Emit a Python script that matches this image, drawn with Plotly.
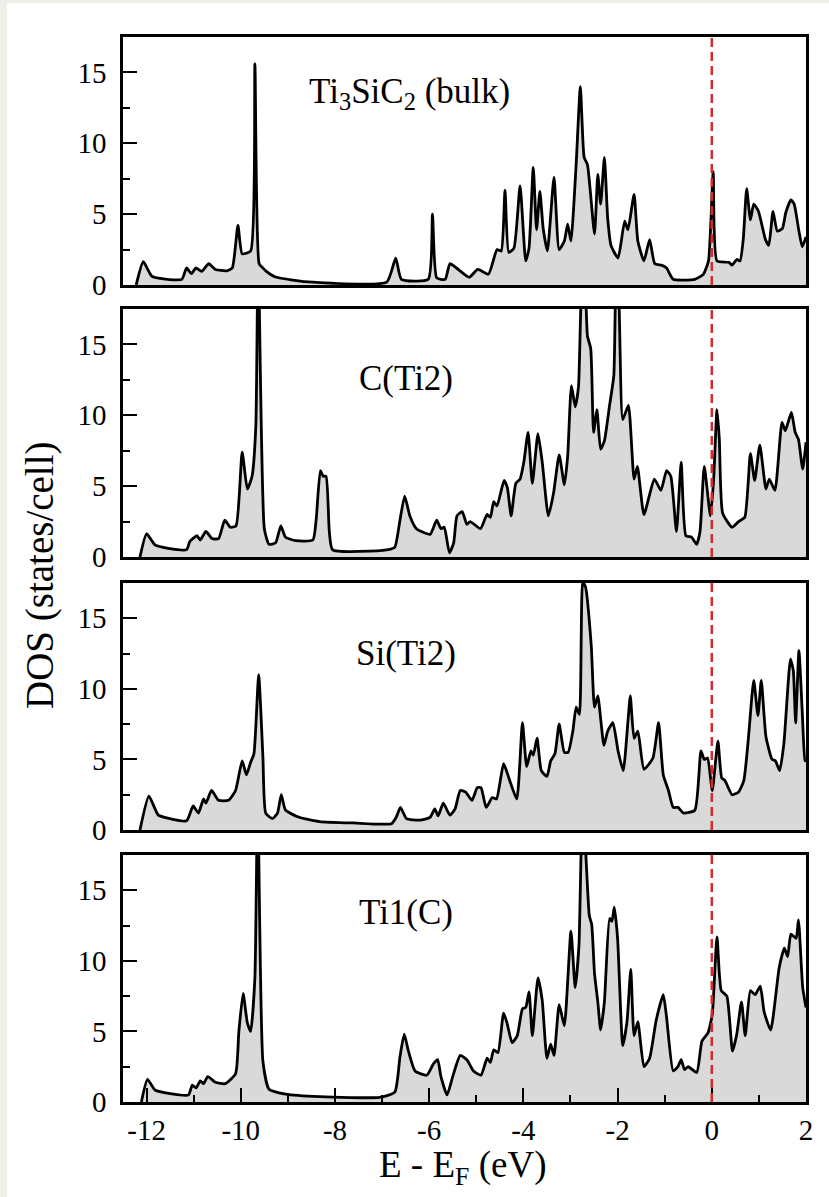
import plotly.graph_objects as go

# ---------------- data ----------------
panel_labels = ["Ti<sub>3</sub>SiC<sub>2</sub> (bulk)", "C(Ti2)", "Si(Ti2)", "Ti1(C)"]
label_pos_e = [-6.42, -6.5, -6.5, -6.5]
label_pos_dos = [13.5, 12.6, 12.5, 13.4]
label_font_size = [35, 35, 35, 35]

fermi_level = 0.0

bulk_e = [-12.22, -12.07, -11.89, -11.6, -11.25, -11.15, -11.05, -10.95, -10.83, -10.68,
          -10.54, -10.3, -10.18, -10.06, -9.97, -9.79, -9.70, -9.61, -9.53, -9.47,
          -9.26, -8.9, -8.47, -6.9, -6.71, -6.59, -6.02, -5.93, -5.84, -5.66,
          -5.56, -5.42, -5.15, -4.97, -4.74, -4.56, -4.47, -4.39, -4.31, -4.20,
          -4.07, -3.95, -3.88, -3.79, -3.72, -3.65, -3.58, -3.49, -3.35, -3.24,
          -3.13, -3.06, -2.99, -2.88, -2.79, -2.71, -2.64, -2.49, -2.42, -2.36,
          -2.28, -2.21, -2.14, -1.99, -1.85, -1.78, -1.65, -1.57, -1.44, -1.32,
          -1.21, -1.07, -0.96, -0.82, -0.36, -0.18, -0.07, 0.03, 0.11, 0.36,
          0.43, 0.53, 0.60, 0.67, 0.74, 0.82, 0.89, 0.99, 1.14, 1.21,
          1.30, 1.39, 1.50, 1.57, 1.68, 1.75, 1.85, 1.92, 2.0]
bulk_dos = [0.0, 1.64, 0.63, 0.42, 0.4, 1.2, 0.8, 1.2, 0.96, 1.5,
            1.1, 1.0, 1.2, 4.2, 2.2, 2.4, 15.6, 1.5, 1.2, 1.0,
            0.56, 0.35, 0.2, 0.2, 1.9, 0.4, 0.4, 5.0, 0.5, 0.4,
            1.5, 1.2, 0.55, 1.1, 0.77, 2.5, 2.4, 6.7, 2.3, 2.6,
            7.0, 1.7, 2.6, 8.3, 3.9, 6.6, 4.0, 2.4, 7.6, 2.5,
            3.1, 4.3, 3.1, 8.5, 14.0, 9.0, 8.5, 3.6, 7.8, 5.7,
            9.0, 4.7, 2.8, 1.9, 4.5, 3.9, 6.4, 3.1, 1.7, 3.2,
            1.5, 1.4, 1.2, 0.4, 0.4, 0.75, 1.7, 8.0, 1.7, 1.6,
            1.4, 1.8, 1.7, 3.3, 6.8, 4.6, 5.7, 5.2, 3.2, 2.8,
            5.2, 3.8, 4.0, 5.1, 6.0, 5.7, 3.8, 2.7, 3.4]

cti2_e = [-12.14, -12.0, -11.82, -11.54, -11.15, -11.08, -10.93, -10.86, -10.74, -10.61,
          -10.47, -10.34, -10.22, -10.10, -9.97, -9.86, -9.76, -9.68, -9.63, -9.50,
          -9.40, -9.26, -9.15, -9.05, -8.83, -8.47, -8.40, -8.31, -8.25, -8.19,
          -8.12, -8.05, -6.9, -6.73, -6.62, -6.52, -6.41, -6.27, -5.98, -5.84,
          -5.75, -5.68, -5.57, -5.48, -5.41, -5.30, -5.20, -5.13, -4.91, -4.77,
          -4.70, -4.63, -4.56, -4.41, -4.34, -4.26, -4.16, -4.07, -3.99, -3.90,
          -3.81, -3.69, -3.60, -3.47, -3.36, -3.24, -3.13, -3.06, -2.98, -2.90,
          -2.83, -2.75, -2.69, -2.64, -2.57, -2.51, -2.44, -2.36, -2.28, -2.17,
          -2.08, -2.03, -1.98, -1.89, -1.77, -1.65, -1.58, -1.44, -1.22, -1.08,
          -0.96, -0.87, -0.75, -0.65, -0.55, -0.43, -0.32, -0.25, -0.16, -0.03,
          0.04, 0.11, 0.16, 0.23, 0.43, 0.57, 0.70, 0.82, 0.91, 1.02,
          1.15, 1.22, 1.34, 1.49, 1.56, 1.69, 1.77, 1.84, 1.93, 2.0]
cti2_dos = [0.0, 1.64, 0.85, 0.61, 0.52, 1.1, 1.5, 1.2, 1.8, 1.3,
            1.3, 2.6, 2.1, 2.2, 7.4, 4.8, 5.7, 9.25, 22.0, 2.0,
            0.9, 1.0, 2.2, 1.4, 1.15, 1.2, 2.6, 6.1, 5.7, 5.7,
            1.8, 0.5, 0.5, 0.7, 2.6, 4.3, 2.9, 2.0, 1.6, 2.6,
            2.0, 2.1, 0.3, 1.0, 2.9, 3.2, 2.3, 2.5, 2.0, 3.0,
            2.8, 3.9, 3.6, 5.4, 4.9, 2.9, 5.2, 5.5, 6.7, 8.8,
            5.2, 8.7, 6.7, 2.9, 4.5, 7.2, 5.1, 7.1, 12.1, 10.6,
            12.0, 19.5, 19.0, 15.6, 14.7, 8.8, 10.4, 7.6, 8.2, 10.7,
            12.8, 20.0, 19.0, 9.7, 10.7, 5.5, 6.4, 3.0, 5.5, 4.7,
            6.1, 5.7, 1.8, 6.7, 1.5, 1.4, 0.9, 1.8, 6.4, 2.9,
            5.5, 10.4, 8.3, 3.1, 2.1, 2.5, 2.8, 7.3, 5.4, 7.9,
            4.8, 5.5, 4.7, 9.5, 8.9, 10.2, 8.8, 8.3, 6.2, 8.1]

siti2_e = [-12.14, -11.95, -11.75, -11.5, -11.15, -11.01, -10.90, -10.79, -10.74, -10.62,
           -10.47, -10.26, -10.11, -9.97, -9.88, -9.79, -9.72, -9.62, -9.53, -9.47,
           -9.33, -9.22, -9.14, -9.05, -8.76, -8.33, -7.62, -6.80, -6.70, -6.61,
           -6.48, -6.20, -5.98, -5.88, -5.81, -5.70, -5.56, -5.45, -5.34, -5.23,
           -5.09, -4.98, -4.90, -4.79, -4.66, -4.57, -4.42, -4.31, -4.14, -4.02,
           -3.93, -3.84, -3.79, -3.71, -3.62, -3.50, -3.42, -3.33, -3.24, -3.13,
           -3.05, -2.95, -2.88, -2.81, -2.74, -2.68, -2.56, -2.49, -2.42, -2.29,
           -2.21, -2.10, -1.99, -1.88, -1.78, -1.73, -1.65, -1.57, -1.44, -1.25,
           -1.13, -1.03, -0.92, -0.82, -0.72, -0.60, -0.36, -0.23, -0.16, -0.09,
           0.01, 0.13, 0.21, 0.28, 0.43, 0.57, 0.68, 0.78, 0.89, 0.98,
           1.05, 1.15, 1.28, 1.35, 1.44, 1.53, 1.67, 1.73, 1.78, 1.85,
           1.92, 1.98, 2.0]
siti2_dos = [0.0, 2.4, 1.05, 0.8, 0.65, 1.7, 1.2, 2.2, 1.9, 2.8,
             2.1, 2.1, 2.8, 4.9, 3.9, 4.8, 5.4, 11.0, 5.2, 1.2,
             0.8, 1.2, 2.5, 1.4, 0.9, 0.6, 0.5, 0.45, 0.9, 1.6,
             0.8, 0.7, 0.9, 1.5, 1.0, 1.9, 1.05, 1.5, 2.8, 2.7,
             2.1, 3.0, 3.0, 1.6, 2.3, 2.2, 4.7, 3.7, 2.2, 7.6,
             4.5, 5.6, 5.3, 6.5, 4.2, 3.8, 4.9, 5.4, 7.5, 5.5,
             5.5, 7.0, 8.7, 8.2, 17.6, 17.2, 13.1, 8.7, 9.5, 6.0,
             7.0, 7.6, 5.6, 4.2, 7.7, 9.5, 6.5, 7.0, 4.3, 5.1,
             7.6, 3.9, 2.8, 1.6, 1.6, 1.2, 1.4, 5.6, 5.0, 5.1,
             2.8, 6.3, 3.7, 3.5, 2.5, 2.7, 3.5, 6.6, 10.6, 8.1,
             10.6, 6.6, 5.0, 4.9, 4.2, 6.1, 12.1, 11.3, 7.6, 12.7,
             8.4, 4.9, 4.9]

ti1c_e = [-12.11, -11.98, -11.82, -11.5, -11.11, -11.03, -10.95, -10.86, -10.79, -10.70,
          -10.54, -10.33, -10.11, -10.04, -9.95, -9.86, -9.79, -9.70, -9.64, -9.53,
          -9.40, -9.05, -8.33, -7.05, -6.73, -6.62, -6.53, -6.44, -6.30, -6.05,
          -5.91, -5.82, -5.75, -5.62, -5.50, -5.34, -5.20, -5.06, -4.90, -4.77,
          -4.70, -4.63, -4.54, -4.42, -4.34, -4.24, -4.13, -4.02, -3.95, -3.88,
          -3.81, -3.69, -3.60, -3.50, -3.42, -3.35, -3.24, -3.13, -2.99, -2.90,
          -2.82, -2.75, -2.70, -2.60, -2.55, -2.49, -2.42, -2.36, -2.28, -2.17,
          -2.12, -2.07, -2.00, -1.89, -1.80, -1.72, -1.65, -1.57, -1.44, -1.32,
          -1.18, -1.03, -0.96, -0.82, -0.72, -0.65, -0.58, -0.50, -0.32, -0.21,
          -0.08, 0.01, 0.11, 0.20, 0.32, 0.44, 0.53, 0.63, 0.71, 0.82,
          0.92, 1.03, 1.11, 1.25, 1.43, 1.54, 1.61, 1.68, 1.79, 1.84,
          1.93, 2.0]
ti1c_dos = [0.0, 1.6, 0.85, 0.6, 0.5, 1.2, 1.0, 1.5, 1.3, 1.8,
            1.4, 1.3, 2.0, 5.0, 7.7, 5.6, 5.0, 8.8, 22.0, 2.9,
            0.9, 0.56, 0.38, 0.33, 0.7, 3.2, 4.8, 3.6, 2.2, 1.9,
            2.7, 3.0, 1.8, 0.5, 1.8, 3.3, 3.0, 2.2, 1.9, 3.1,
            2.8, 3.7, 3.5, 6.3, 5.5, 4.2, 4.7, 6.6, 6.7, 7.8,
            4.7, 8.8, 7.2, 3.1, 4.1, 3.3, 6.9, 5.4, 12.1, 8.1,
            11.1, 20.0, 19.0, 13.2, 12.6, 9.1, 7.1, 5.1, 7.1, 13.0,
            12.8, 13.8, 11.6, 4.0, 5.7, 9.4, 4.7, 5.7, 2.5, 3.1,
            5.8, 7.6, 6.0, 2.2, 2.5, 3.0, 2.3, 2.5, 2.1, 4.3,
            4.9, 6.2, 11.7, 7.9, 7.5, 3.6, 4.8, 7.1, 4.7, 7.9,
            7.6, 8.2, 6.4, 5.1, 9.5, 10.9, 10.3, 11.9, 11.6, 12.9,
            8.1, 6.7]

x_tick_vals = [-12, -10, -8, -6, -4, -2, 0, 2]
x_tick_text = ["-12", "-10", "-8", "-6", "-4", "-2", "0", "2"]
y_tick_vals = [0, 5, 10, 15]
y_tick_text = ["0", "5", "10", "15"]

x_range = [-12.5, 2.0]
y_range = [0, 17.5]

series_e = [bulk_e, cti2_e, siti2_e, ti1c_e]
series_dos = [bulk_dos, cti2_dos, siti2_dos, ti1c_dos]

# ---------------- figure ----------------
FONT = "Liberation Serif"
W, H = 829, 1197
ML, MR, MT, MB = 123, 23, 37, 95
plot_h = H - MT - MB
plot_w = W - ML - MR

def ypaper(px):
    return (H - MB - px) / plot_h

def xpaper(px):
    return (px - ML) / plot_w

panel_px = [(37, 285), (309, 557), (583, 830), (855, 1102)]

fig = go.Figure()
layout = dict(
    width=W, height=H,
    margin=dict(l=ML, r=MR, t=MT, b=MB),
    paper_bgcolor="#efefe9",
    plot_bgcolor="white",
    showlegend=False,
    font=dict(family=FONT, color="black", size=28),
)

for i in range(4):
    n = "" if i == 0 else str(i + 1)
    xa = "x" + n
    ya = "y" + n
    fig.add_trace(go.Scatter(
        x=series_e[i], y=series_dos[i], xaxis=xa, yaxis=ya,
        mode="lines", line=dict(color="black", width=2.8, shape="spline", smoothing=0.5),
        fill="tozeroy", fillcolor="#d9d9d9", hoverinfo="skip",
    ))
    top, bot = panel_px[i]
    last = (i == 3)
    layout["xaxis" + n] = dict(
        domain=[0, 1], anchor=ya, range=x_range,
        showline=True, linecolor="black", linewidth=2.5, mirror=True,
        showgrid=False, zeroline=False,
        ticks="inside" if last else "", ticklen=14, tickwidth=2, tickcolor="black",
        tickmode="array", tickvals=x_tick_vals, ticktext=x_tick_text,
        showticklabels=last, ticklabelstandoff=0,
        tickfont=dict(family=FONT, size=29, color="black"),
        minor=dict(dtick=1, tick0=0, ticks="inside" if last else "", ticklen=7,
                   tickwidth=2, tickcolor="black", showgrid=False),
        matches=None if i == 0 else "x",
    )
    layout["yaxis" + n] = dict(
        domain=[ypaper(bot), ypaper(top)], anchor=xa, range=y_range,
        showline=True, linecolor="black", linewidth=2.5, mirror=True,
        showgrid=False, zeroline=False,
        ticks="inside", ticklen=14, tickwidth=2, tickcolor="black",
        tickmode="array", tickvals=y_tick_vals, ticktext=y_tick_text,
        ticklabelstandoff=8,
        tickfont=dict(family=FONT, size=29, color="black"),
        minor=dict(dtick=2.5, tick0=0, ticks="inside", ticklen=7,
                   tickwidth=2, tickcolor="black", showgrid=False),
    )

fig.update_layout(**layout)

# white page area over the beige frame
fig.add_shape(type="rect", xref="paper", yref="paper",
              x0=xpaper(7), x1=xpaper(W + 5), y0=ypaper(H + 5), y1=ypaper(3),
              fillcolor="white", line=dict(width=0), layer="below")

for i in range(4):
    n = "" if i == 0 else str(i + 1)
    fig.add_shape(type="line", xref="x" + n, yref="y" + n + " domain",
                  x0=fermi_level, x1=fermi_level, y0=0, y1=1,
                  line=dict(color="#d42a2a", width=2.5, dash="9px,5px"), layer="above")
    fig.add_annotation(x=label_pos_e[i], y=label_pos_dos[i], xref="x" + n, yref="y" + n,
                       text=panel_labels[i], showarrow=False,
                       xanchor="center", yanchor="middle",
                       font=dict(family=FONT, size=label_font_size[i], color="black"))

fig.add_annotation(x=xpaper(462), y=ypaper(1167), xref="paper", yref="paper",
                   text="E - E<sub>F</sub> (eV)", showarrow=False,
                   xanchor="center", yanchor="middle",
                   font=dict(family=FONT, size=37, color="black"))
fig.add_annotation(x=xpaper(40), y=ypaper(575), xref="paper", yref="paper",
                   text="DOS (states/cell)", showarrow=False, textangle=-90,
                   xanchor="center", yanchor="middle",
                   font=dict(family=FONT, size=39, color="black"))

fig.write_html("out.html")
